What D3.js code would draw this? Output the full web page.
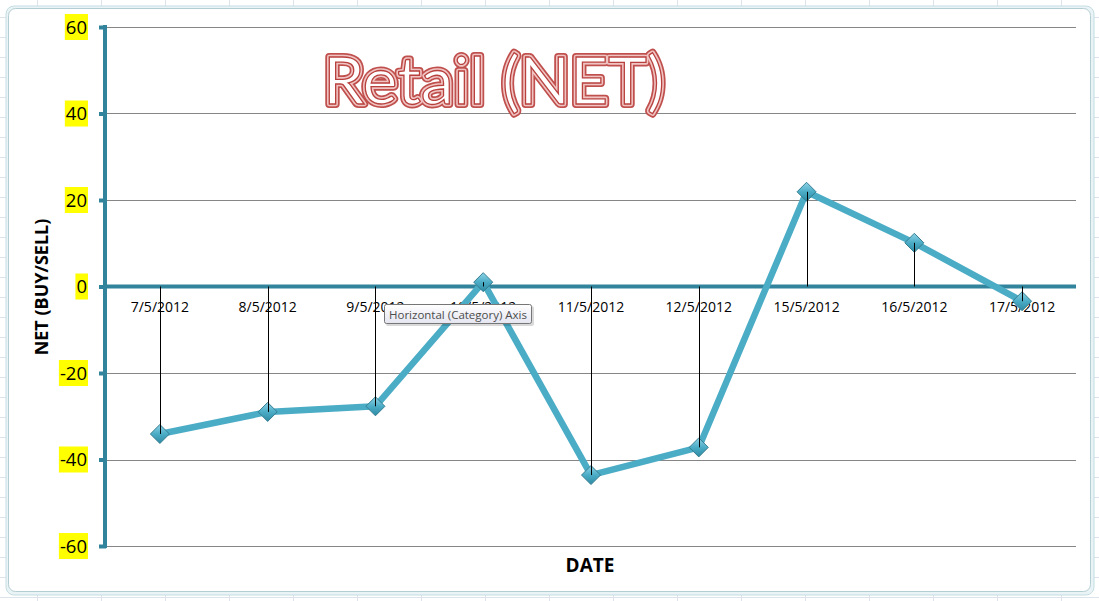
<!DOCTYPE html>
<html><head><meta charset="utf-8">
<script src="https://cdn.jsdelivr.net/npm/d3@7"></script>
<style>body{margin:0;background:#fff;}svg{display:block;}</style>
</head><body>
<svg id="c" width="1099" height="601"></svg>
<script>
const categories = ["7/5/2012","8/5/2012","9/5/2012","10/5/2012","11/5/2012","12/5/2012","15/5/2012","16/5/2012","17/5/2012"];
const netValues = [-34.1, -29.0, -27.7, 1.0, -43.6, -37.2, 21.9, 10.1, -3.4];
const yTicks = [-60, -40, -20, 0, 20, 40, 60];
const titleText = "Retail (NET)";
const yTitle = "NET (BUY/SELL)";
const xTitle = "DATE";
const tooltipText = "Horizontal (Category) Axis";

const svg = d3.select("#c");
const W = 1099, H = 601;
const plot = {left:106, right:1076, top:27, bottom:546};
const teal = "#31849b", lineCol = "#4bacc6";

// spreadsheet background
svg.append("rect").attr("width",W).attr("height",H).attr("fill","#ffffff");
const bg = svg.append("g").attr("stroke","#dde3ea").attr("stroke-width",1);
for (let x = 37; x < W; x += 64) bg.append("line").attr("x1",x+0.5).attr("x2",x+0.5).attr("y1",0).attr("y2",H);
for (let y = 17; y < H; y += 20) bg.append("line").attr("x1",0).attr("x2",W).attr("y1",y+0.5).attr("y2",y+0.5);

// chart frame
svg.append("rect").attr("x",6).attr("y",6).attr("width",1088).attr("height",589).attr("rx",8)
  .attr("fill","#eaf4f6").attr("stroke","#c4dde2").attr("stroke-width",1);
svg.append("rect").attr("x",8.5).attr("y",8.5).attr("width",1082).attr("height",583).attr("rx",7)
  .attr("fill","#ffffff").attr("stroke","#b3cdd2").attr("stroke-width",1);

const x = d3.scaleBand().domain(categories).range([plot.left, plot.right]);
const y = d3.scaleLinear().domain([-60, 60]).range([plot.bottom, plot.top]);
const cx = d => x(d) + x.bandwidth()/2;

// gridlines
svg.append("g").selectAll("line").data(yTicks.filter(v => v !== 0)).join("line")
  .attr("x1",plot.left).attr("x2",plot.right)
  .attr("y1",d=>Math.round(y(d))+0.5).attr("y2",d=>Math.round(y(d))+0.5)
  .attr("stroke","#868686").attr("stroke-width",1);

// y axis
const yAxis = d3.axisLeft(y).tickValues(yTicks).tickSize(6).tickFormat(d3.format("d"));
const gy = svg.append("g").attr("transform",`translate(${plot.left},0)`).call(yAxis);
gy.select(".domain").remove();
gy.selectAll(".tick line").attr("stroke",teal).attr("stroke-width",4).attr("x1",0).attr("x2",-7);
gy.selectAll(".tick text").remove();
svg.append("line").attr("x1",plot.left-1).attr("x2",plot.left-1).attr("y1",plot.top-2).attr("y2",plot.bottom+2)
  .attr("stroke",teal).attr("stroke-width",4);

// y tick labels with yellow highlight
const lab = svg.append("g").attr("font-family","Open Sans, sans-serif").attr("font-size",18.5).attr("fill","#000");
yTicks.forEach(v => {
  const t = lab.append("text").attr("x",87).attr("y",y(v)+6.5).attr("text-anchor","end").text(v);
  const bb = t.node().getBBox();
  lab.insert("rect","text").attr("x",bb.x-1).attr("y",y(v)-13).attr("width",bb.width+2).attr("height",26).attr("fill","#ffff00");
});

// zero axis (category axis)
svg.append("line").attr("x1",plot.left).attr("x2",plot.right).attr("y1",y(0)).attr("y2",y(0))
  .attr("stroke",teal).attr("stroke-width",4);

// category labels
svg.append("g").selectAll("text").data(categories).join("text")
  .attr("x",d=>cx(d)).attr("y",y(0)+25).attr("text-anchor","middle")
  .attr("font-family","Open Sans, sans-serif").attr("font-size",14).attr("fill","#000").text(d=>d);

// data line
const data = categories.map((c,i)=>({c, v: netValues[i]}));
svg.append("path").datum(data)
  .attr("d", d3.line().x(d=>cx(d.c)).y(d=>y(d.v)))
  .attr("fill","none").attr("stroke",lineCol).attr("stroke-width",6.5).attr("stroke-linejoin","round");

// markers
const defs = svg.append("defs");
const grad = defs.append("linearGradient").attr("id","mg").attr("x1","0").attr("y1","0").attr("x2","0").attr("y2","1");
grad.append("stop").attr("offset","0").attr("stop-color","#8fd3e6");
grad.append("stop").attr("offset","0.5").attr("stop-color","#4bacc6");
grad.append("stop").attr("offset","1").attr("stop-color","#2f8aa3");
svg.append("g").selectAll("path").data(data).join("path")
  .attr("transform",d=>`translate(${cx(d.c)},${y(d.v)})`)
  .attr("d","M0,-9.5L9.5,0L0,9.5L-9.5,0Z")
  .attr("fill","url(#mg)").attr("stroke","#357d91").attr("stroke-width",1);

// drop lines
svg.append("g").selectAll("line").data(data).join("line")
  .attr("x1",d=>Math.round(cx(d.c))+0.5).attr("x2",d=>Math.round(cx(d.c))+0.5)
  .attr("y1",y(0)).attr("y2",d=>y(d.v))
  .attr("stroke","#000").attr("stroke-width",1);

// title (outlined)
const tAttrs = s => s.attr("x",494).attr("y",104).attr("text-anchor","middle")
  .attr("font-family","Lato, Open Sans, sans-serif").attr("font-size",66).text(titleText);
svg.append("text").call(tAttrs).attr("fill","none").attr("stroke","#c0504d").attr("stroke-width",8).attr("stroke-linejoin","round");
svg.append("text").call(tAttrs).attr("fill","none").attr("stroke","#f0c4c2").attr("stroke-width",4.5).attr("stroke-linejoin","round");
svg.append("text").call(tAttrs).attr("fill","#ffffff").attr("stroke","#b8413e").attr("stroke-width",1.3);

// axis titles
svg.append("text").attr("transform",`translate(48,287) rotate(-90)`).attr("text-anchor","middle")
  .attr("font-family","Open Sans, sans-serif").attr("font-weight","bold").attr("font-size",18).text(yTitle);
svg.append("text").attr("x",590).attr("y",572).attr("text-anchor","middle")
  .attr("font-family","Open Sans, sans-serif").attr("font-weight","bold").attr("font-size",19).text(xTitle);

// tooltip
const tg = svg.append("g").attr("transform","translate(384,304)");
const tgrad = defs.append("linearGradient").attr("id","tg").attr("x1","0").attr("y1","0").attr("x2","0").attr("y2","1");
tgrad.append("stop").attr("offset","0").attr("stop-color","#ffffff");
tgrad.append("stop").attr("offset","1").attr("stop-color","#e4e5f0");
tg.append("rect").attr("x",2).attr("y",2).attr("width",148).attr("height",20).attr("rx",2).attr("fill","#000").attr("opacity",0.15);
tg.append("rect").attr("x",0.5).attr("y",0.5).attr("width",147).attr("height",19).attr("rx",2)
  .attr("fill","url(#tg)").attr("stroke","#767676");
tg.append("text").attr("x",74).attr("y",14.5).attr("text-anchor","middle")
  .attr("font-family","Open Sans, sans-serif").attr("font-size",11.5).attr("fill","#4c4c4c").text(tooltipText);
</script>
</body></html>
